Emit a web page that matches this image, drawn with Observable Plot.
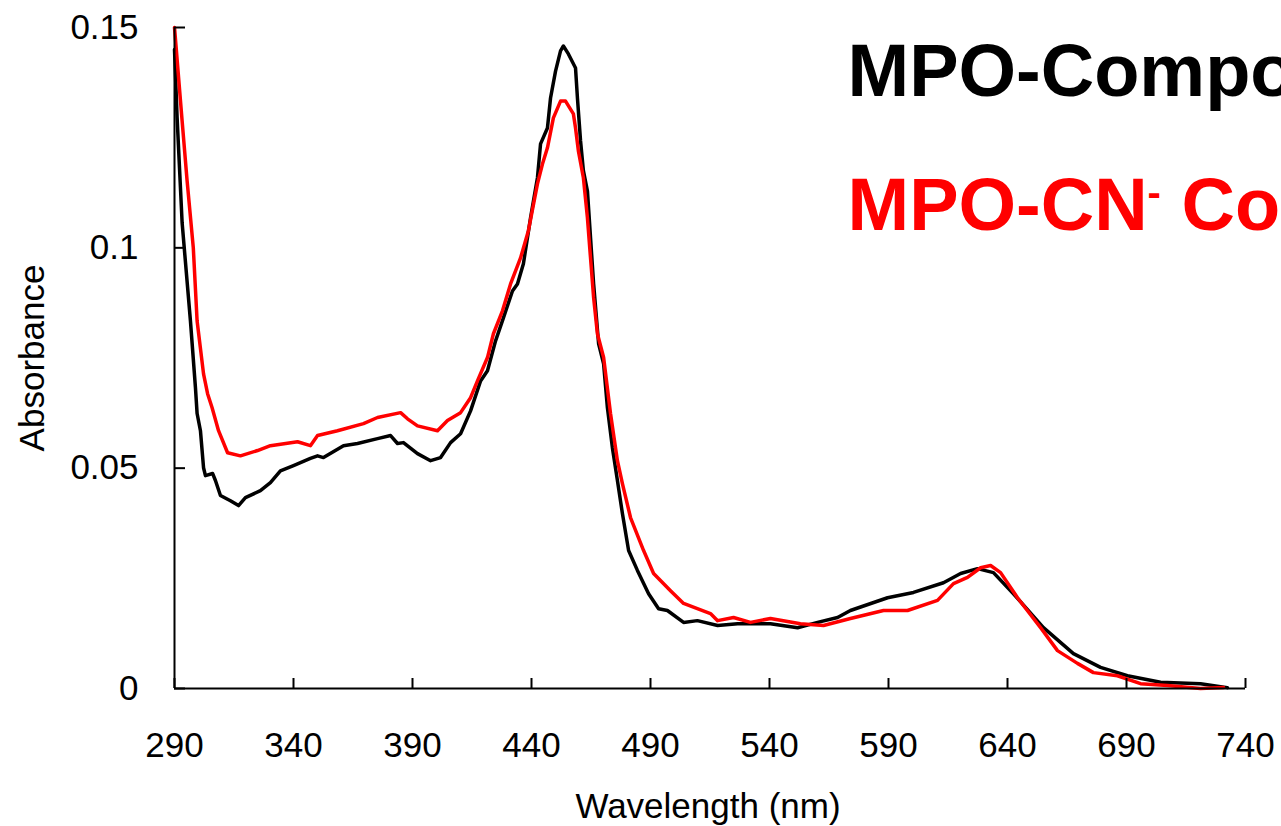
<!DOCTYPE html>
<html>
<head>
<meta charset="utf-8">
<script src="https://cdn.jsdelivr.net/npm/d3@7"></script>
<script src="https://cdn.jsdelivr.net/npm/@observablehq/plot@0.6"></script>
<style>
  html, body { margin: 0; padding: 0; background: #fff; overflow: hidden; }
  #chart { width: 1281px; height: 826px; overflow: hidden; }
</style>
</head>
<body>
<div id="chart"></div>
<script>
// MPO-Compound II (black)
const blackWavelength = [290, 291.1, 293.2, 296.7, 298.8, 299.5, 300.9, 302.2, 303.0, 306.0, 307.2, 309.3, 313.5, 316.9, 319.8, 326.1, 330.3, 334.5, 340.0, 347.1, 350.1, 352.6, 361.0, 366.9, 375.3, 380.8, 383.7, 386.2, 392.1, 397.6, 401.8, 406.0, 410.2, 414.4, 418.6, 421.5, 424.9, 428.2, 432.0, 434.1, 436.6, 439.6, 442.5, 443.8, 446.7, 448.0, 450.1, 452.2, 453.4, 455.5, 458.5, 459.3, 460.6, 461.8, 463.5, 464.8, 466.1, 468.2, 470.3, 471.9, 474.0, 476.1, 478.2, 480.8, 484.5, 489.2, 493.4, 497.1, 503.9, 509.7, 518.2, 526.6, 540.4, 551.8, 560.2, 568.6, 574.0, 589.6, 600.5, 613.1, 620.3, 627.4, 634.1, 642.5, 655.1, 667.7, 679.1, 690.4, 704.3, 721.1, 732.4];
const blackAbsorbance = [0.145, 0.1295, 0.1057, 0.0834, 0.0683, 0.0624, 0.0585, 0.0501, 0.0483, 0.0488, 0.0472, 0.0438, 0.0426, 0.0415, 0.0433, 0.0449, 0.0467, 0.0494, 0.0506, 0.0522, 0.0528, 0.0524, 0.0551, 0.0556, 0.0567, 0.0574, 0.0556, 0.0558, 0.0533, 0.0517, 0.0524, 0.0558, 0.0578, 0.0630, 0.0698, 0.0721, 0.0789, 0.0841, 0.0902, 0.0918, 0.0964, 0.1068, 0.1159, 0.1236, 0.1272, 0.1340, 0.1401, 0.1447, 0.1458, 0.1440, 0.1408, 0.1340, 0.1243, 0.1175, 0.1129, 0.1023, 0.0918, 0.0782, 0.0737, 0.0637, 0.0546, 0.0472, 0.0397, 0.0313, 0.0268, 0.0215, 0.0181, 0.0177, 0.0150, 0.0154, 0.0143, 0.0147, 0.0147, 0.0138, 0.0150, 0.0161, 0.0177, 0.0206, 0.0218, 0.0240, 0.0261, 0.0272, 0.0263, 0.0215, 0.0138, 0.0079, 0.0048, 0.0029, 0.0014, 0.0011, 0.0002];

// MPO-CN- Compound II (red)
const redWavelength = [290, 293.2, 295.3, 297.9, 299.5, 302.2, 303.9, 305.8, 308.5, 312.3, 317.7, 324.9, 330.3, 341.7, 347.1, 350.1, 358.5, 369.4, 375.3, 385.0, 387.9, 392.1, 400.5, 404.7, 410.2, 414.4, 417.3, 421.5, 424.0, 427.8, 431.2, 435.4, 438.7, 442.5, 444.6, 446.7, 449.2, 452.2, 454.3, 457.6, 458.5, 459.7, 461.8, 463.5, 464.8, 466.1, 467.7, 470.3, 473.2, 476.1, 478.2, 481.6, 487.1, 491.3, 498.4, 503.9, 515.2, 518.2, 524.9, 532.0, 540.4, 553.0, 562.7, 574.0, 587.9, 598.0, 610.6, 617.3, 623.2, 628.7, 632.9, 637.1, 644.2, 653.9, 661.0, 669.4, 676.1, 686.2, 695.9, 707.2, 721.1, 730.8];
const redAbsorbance = [0.150, 0.1288, 0.1152, 0.1000, 0.0834, 0.0714, 0.0669, 0.0637, 0.0585, 0.0535, 0.0528, 0.0540, 0.0551, 0.0560, 0.0551, 0.0574, 0.0585, 0.0601, 0.0615, 0.0626, 0.0612, 0.0596, 0.0585, 0.0608, 0.0626, 0.0660, 0.0698, 0.0751, 0.0805, 0.0857, 0.0918, 0.0977, 0.1039, 0.1145, 0.1190, 0.1227, 0.1295, 0.1333, 0.1333, 0.1304, 0.1272, 0.1220, 0.1159, 0.1068, 0.0977, 0.0887, 0.0805, 0.0751, 0.0624, 0.0517, 0.0465, 0.0388, 0.0313, 0.0261, 0.0222, 0.0193, 0.0170, 0.0154, 0.0161, 0.0150, 0.0159, 0.0147, 0.0143, 0.0159, 0.0177, 0.0177, 0.0200, 0.0238, 0.0252, 0.0274, 0.0279, 0.0263, 0.0206, 0.0138, 0.0086, 0.0057, 0.0036, 0.0029, 0.0011, 0.0007, 0.0000, 0.0002];

const xTicks = [290, 340, 390, 440, 490, 540, 590, 640, 690, 740];
const yTicks = [0, 0.05, 0.1, 0.15];
const yTickLabels = ["0", "0.05", "0.1", "0.15"];
const xLabel = "Wavelength (nm)";
const yLabel = "Absorbance";
const seriesNames = ["MPO-Compound II", "MPO-CN\u207B Compound II"];

const blackData = blackWavelength.map((w, i) => ({w, a: blackAbsorbance[i]}));
const redData = redWavelength.map((w, i) => ({w, a: redAbsorbance[i]}));

const font = "Arial, 'Liberation Sans', sans-serif";

const chart = Plot.plot({
  width: 1281,
  height: 826,
  marginLeft: 174,
  marginRight: 36,
  marginTop: 27,
  marginBottom: 138,
  style: {fontFamily: font, fontSize: "35px", color: "#000", background: "#fff", overflow: "hidden"},
  x: {domain: [290, 740]},
  y: {domain: [0, 0.15]},
  marks: [
    Plot.line(blackData, {x: "w", y: "a", stroke: "#000", strokeWidth: 3.5, strokeLinejoin: "round"}),
    Plot.line(redData, {x: "w", y: "a", stroke: "#ff0000", strokeWidth: 3.5, strokeLinejoin: "round"}),
    Plot.ruleX([290], {stroke: "#000", strokeWidth: 2}),
    Plot.ruleY([0], {stroke: "#000", strokeWidth: 2}),
    Plot.axisX({ticks: xTicks, tickSize: -10, text: null, label: null, strokeWidth: 2}),
    Plot.axisX({ticks: xTicks, tickSize: 0, tickPadding: 44, label: null, fontSize: 35, tickFormat: d => String(d)}),
    Plot.axisY({ticks: yTicks, tickSize: -11, text: null, label: null, strokeWidth: 2}),
    Plot.axisY({ticks: yTicks, tickSize: 0, tickPadding: 36, label: null, fontSize: 35, tickFormat: (d, i) => yTickLabels[i]}),
    Plot.text([xLabel], {frameAnchor: "bottom", textAnchor: "middle", lineAnchor: "bottom", dx: -2, dy: 129, fontSize: 35}),
    Plot.text([yLabel], {frameAnchor: "left", textAnchor: "middle", lineAnchor: "middle", rotate: -90, dx: -142, fontSize: 35}),
    Plot.text([seriesNames[0]], {frameAnchor: "top-left", textAnchor: "start", lineAnchor: "bottom", dx: 673, dy: 68, fontSize: 74, fontWeight: "bold", fill: "#000"}),
    Plot.text([seriesNames[1]], {frameAnchor: "top-left", textAnchor: "start", lineAnchor: "bottom", dx: 673, dy: 202, fontSize: 74, fontWeight: "bold", fill: "#ff0000"})
  ]
});

// render the superscript minus of CN⁻ with tspans
d3.select(chart).selectAll("text").each(function() {
  const t = this.textContent;
  if (t === seriesNames[1]) {
    const sel = d3.select(this);
    sel.text(null);
    sel.append("tspan").text("MPO-CN");
    sel.append("tspan").attr("dy", "-24px").attr("font-size", "40px").text("-");
    sel.append("tspan").attr("dy", "24px").text(" Compound II");
  }
});

document.getElementById("chart").appendChild(chart);
</script>
</body>
</html>
